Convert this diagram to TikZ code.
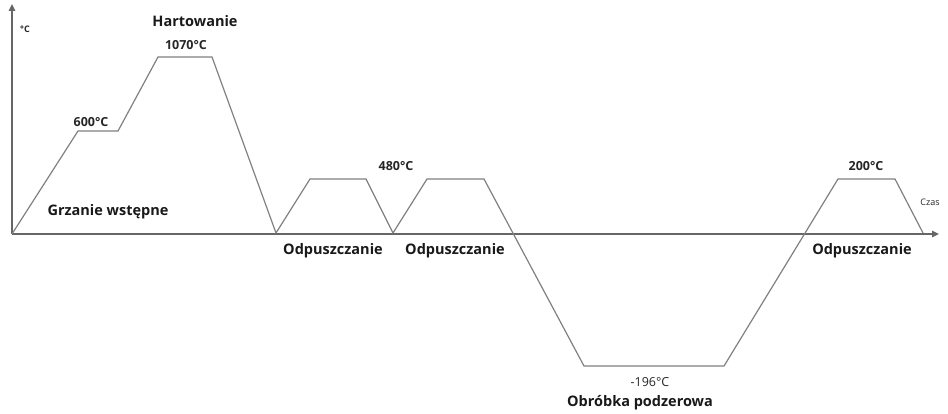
\documentclass[tikz,border=0pt]{standalone}
\usepackage{fontspec}
\setmainfont{Open Sans}
\usetikzlibrary{arrows.meta}
\begin{document}
\begin{tikzpicture}[x=1pt,y=-1pt,
  curve/.style={draw=black!50, line width=1.2pt, line join=miter},
  axis/.style={draw=black!60, line width=1.4pt, -{Triangle[length=7pt,width=6.5pt]}},
  lab/.style={font=\fontsize{14.5}{17}\selectfont\bfseries, text=black!90, inner sep=0pt},
  temp/.style={font=\fontsize{12.5}{15}\selectfont\bfseries, text=black!85, inner sep=0pt},
  small/.style={font=\fontsize{9}{11}\selectfont, text=black!85, inner sep=0pt}]
\useasboundingbox (0,0) rectangle (948,414);
% origin and axes
\coordinate (o) at (12,234);
\coordinate (xend) at (939,234);
\coordinate (yend) at (12,4);
\draw[axis] (o) -- (xend);
\draw[axis] (o) -- (yend);
% curve points
\coordinate (p1) at (78,131);
\coordinate (p2) at (118,131);
\coordinate (p3) at (158,57);
\coordinate (p4) at (212,57);
\coordinate (p5) at (276,233);
\coordinate (p6) at (310,179);
\coordinate (p7) at (366,179);
\coordinate (p8) at (393,233);
\coordinate (p9) at (427,179);
\coordinate (p10) at (484,179);
\coordinate (p11) at (584,366);
\coordinate (p12) at (724,366);
\coordinate (p13) at (838,179);
\coordinate (p14) at (895,179);
\coordinate (p15) at (923,233);
\draw[curve] (o) -- (p1) -- (p2) -- (p3) -- (p4) -- (p5) -- (p6) -- (p7) -- (p8)
  -- (p9) -- (p10) -- (p11) -- (p12) -- (p13) -- (p14) -- (p15);
% labels
\node[small, font=\fontsize{9}{11}\selectfont\bfseries] (unit) at (25,29) {°C};
\node[lab] (hart) at (195,21) {Hartowanie};
\node[temp] (t1070) at (186,45) {1070°C};
\node[temp] (t600) at (91,122) {600°C};
\node[lab] (grz) at (108,212) {Grzanie wstępne};
\node[lab] (od1) at (333,251) {Odpuszczanie};
\node[temp] (t480) at (396,166) {480°C};
\node[lab] (od2) at (455,251) {Odpuszczanie};
\node[temp] (t200) at (866,166) {200°C};
\node[small] (czas) at (930,202) {Czas};
\node[lab] (od3) at (862,251) {Odpuszczanie};
\node[temp, font=\fontsize{12.5}{15}\selectfont] (t196) at (650,382) {-196°C};
\node[lab] (obr) at (640,403) {Obróbka podzerowa};
\end{tikzpicture}
\end{document}
